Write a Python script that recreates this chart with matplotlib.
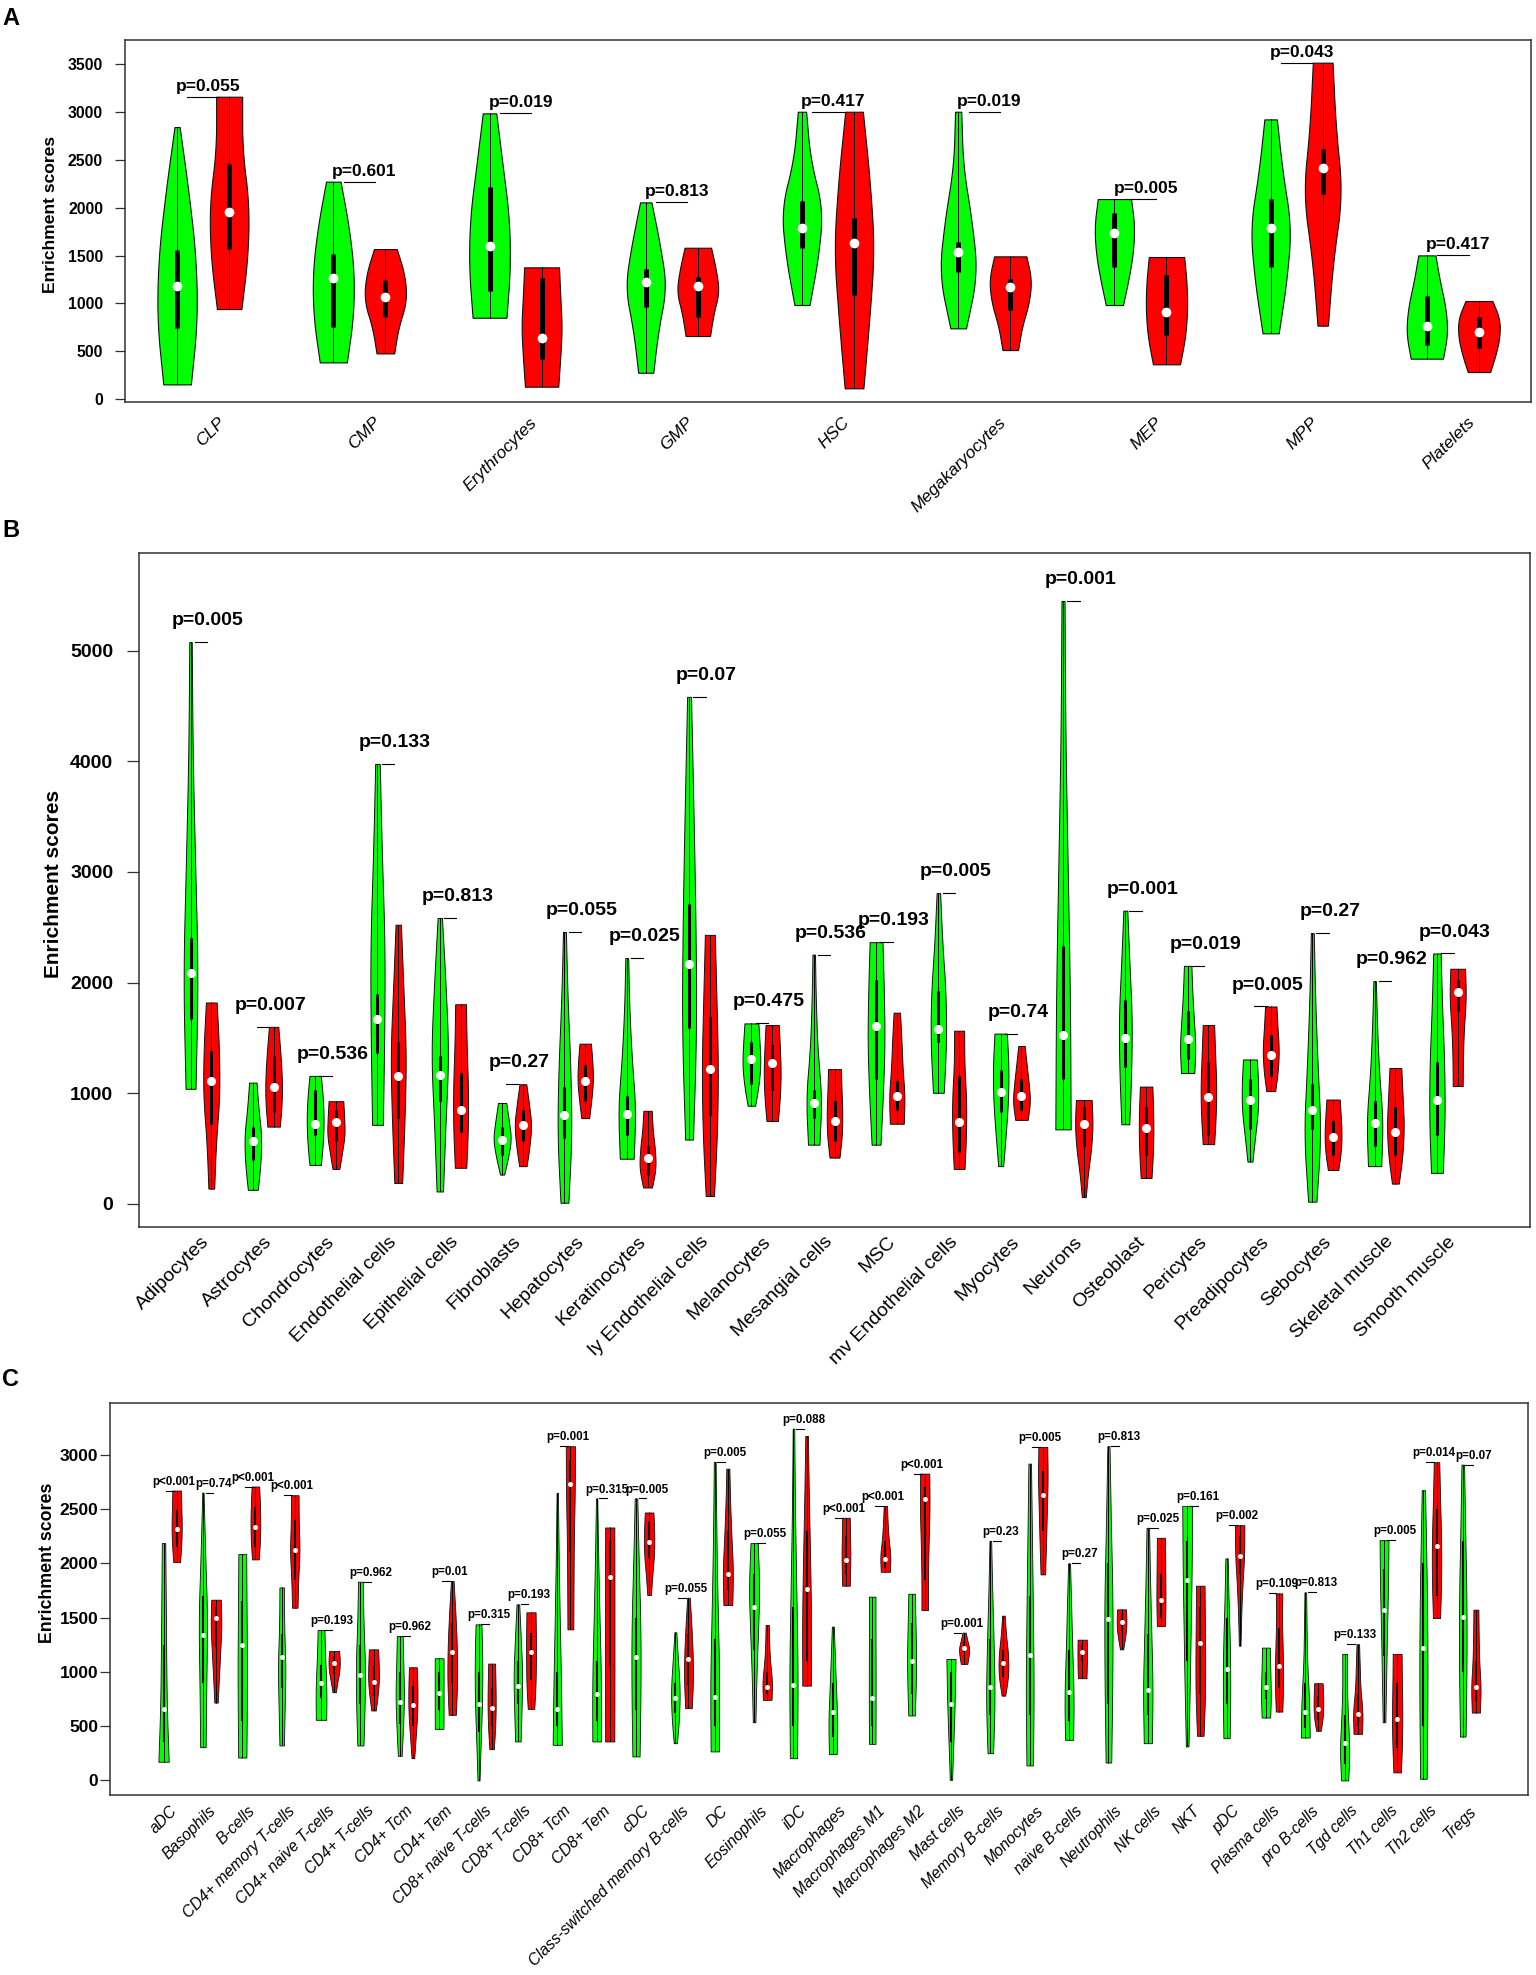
import numpy as np
import matplotlib
matplotlib.use("Agg")
import matplotlib.pyplot as plt
from matplotlib.transforms import blended_transform_factory

plt.rcParams['font.family'] = ['Liberation Sans', 'DejaVu Sans']

# ---------------- Panel A data ----------------
A_categories = ["CLP", "CMP", "Erythrocytes", "GMP", "HSC", "Megakaryocytes", "MEP", "MPP", "Platelets"]
# [min, q1, median, q3, max]
A_green_stats = [
    [153, 746, 1185, 1558, 2844], [383, 749, 1265, 1516, 2273], [850, 1133, 1603, 2213, 2987],
    [275, 965, 1220, 1363, 2056], [983, 1575, 1792, 2074, 3004], [739, 1331, 1534, 1645, 3004],
    [983, 1384, 1739, 1948, 2091], [687, 1384, 1792, 2088, 2924], [422, 565, 767, 1077, 1502]]
# violin full width at 5 evenly spaced levels from min to max
A_green_shape = [
    [0.53, 0.78, 0.72, 0.44, 0.10], [0.52, 0.77, 0.80, 0.60, 0.28], [0.65, 0.80, 0.75, 0.50, 0.26],
    [0.29, 0.48, 0.80, 0.55, 0.22], [0.29, 0.63, 0.80, 0.32, 0.16], [0.30, 0.74, 0.52, 0.18, 0.12],
    [0.33, 0.55, 0.72, 0.77, 0.64], [0.31, 0.62, 0.79, 0.46, 0.24], [0.62, 0.80, 0.72, 0.50, 0.33]]
A_red_stats = [
    [941, 1565, 1959, 2454, 3161], [477, 854, 1070, 1244, 1568], [129, 418, 641, 1269, 1377],
    [659, 861, 1182, 1279, 1582], [112, 1087, 1628, 1889, 3004], [512, 931, 1168, 1258, 1492],
    [363, 669, 913, 1297, 1485], [767, 2144, 2412, 2611, 3517], [282, 530, 704, 861, 1025]]
A_red_shape = [
    [0.47, 0.72, 0.76, 0.50, 0.50], [0.34, 0.50, 0.82, 0.75, 0.44], [0.64, 0.72, 0.78, 0.72, 0.67],
    [0.47, 0.60, 0.82, 0.70, 0.51], [0.36, 0.59, 0.78, 0.61, 0.34], [0.30, 0.45, 0.72, 0.82, 0.62],
    [0.52, 0.72, 0.80, 0.78, 0.68], [0.20, 0.40, 0.76, 0.50, 0.38], [0.43, 0.65, 0.80, 0.80, 0.52]]
A_pvalues = ["p=0.055", "p=0.601", "p=0.019", "p=0.813", "p=0.417", "p=0.019", "p=0.005", "p=0.043", "p=0.417"]
A_yticks = [0, 500, 1000, 1500, 2000, 2500, 3000, 3500]

# ---------------- Panel B data ----------------
B_categories = ["Adipocytes", "Astrocytes", "Chondrocytes", "Endothelial cells", "Epithelial cells",
                "Fibroblasts", "Hepatocytes", "Keratinocytes", "ly Endothelial cells", "Melanocytes",
                "Mesangial cells", "MSC", "mv Endothelial cells", "Myocytes", "Neurons", "Osteoblast",
                "Pericytes", "Preadipocytes", "Sebocytes", "Skeletal muscle", "Smooth muscle"]
B_green_stats = [
    [1040, 1667, 2090, 2406, 5077], [127, 392, 571, 698, 1096], [352, 622, 724, 1030, 1157],
    [714, 1361, 1667, 1896, 3976], [112, 928, 1167, 1335, 2584], [265, 443, 581, 698, 912],
    [10, 596, 800, 1055, 2457], [408, 622, 816, 979, 2222], [581, 1590, 2166, 2712, 4582],
    [887, 1081, 1310, 1463, 1631], [535, 775, 912, 1030, 2253], [535, 1132, 1611, 2024, 2365],
    [1004, 1463, 1580, 1922, 2808], [341, 826, 1014, 1208, 1539], [673, 1132, 1524, 2330, 5449],
    [719, 1233, 1499, 1845, 2650], [1183, 1310, 1493, 1743, 2151], [382, 673, 943, 1131, 1305],
    [20, 673, 851, 1081, 2447], [341, 520, 734, 928, 2013], [280, 622, 938, 1284, 2263]]
B_green_shape = [
    [0.48, 0.72, 0.45, 0.20, 0.12], [0.48, 0.75, 0.83, 0.55, 0.36], [0.55, 0.75, 0.83, 0.75, 0.55],
    [0.52, 0.66, 0.70, 0.42, 0.22], [0.31, 0.55, 0.85, 0.57, 0.21], [0.20, 0.60, 0.88, 0.65, 0.40],
    [0.38, 0.70, 0.58, 0.30, 0.14], [0.67, 0.85, 0.48, 0.24, 0.14], [0.38, 0.71, 0.62, 0.42, 0.19],
    [0.36, 0.70, 0.88, 0.80, 0.67], [0.55, 0.76, 0.36, 0.20, 0.12], [0.43, 0.67, 0.83, 0.76, 0.62],
    [0.52, 0.76, 0.71, 0.38, 0.17], [0.24, 0.50, 0.72, 0.76, 0.60], [0.74, 0.68, 0.45, 0.22, 0.15],
    [0.38, 0.58, 0.64, 0.40, 0.19], [0.64, 0.76, 0.60, 0.45, 0.36], [0.24, 0.50, 0.78, 0.80, 0.67],
    [0.40, 0.83, 0.52, 0.28, 0.14], [0.64, 0.79, 0.43, 0.24, 0.12], [0.57, 0.76, 0.71, 0.50, 0.36]]
B_red_stats = [
    [138, 724, 1106, 1386, 1820], [698, 826, 1055, 1335, 1600], [316, 571, 739, 851, 928],
    [189, 775, 1157, 1463, 2523], [326, 647, 846, 1182, 1804], [341, 571, 714, 851, 1081],
    [775, 928, 1106, 1259, 1448], [148, 265, 418, 520, 841], [71, 800, 1223, 1692, 2431],
    [749, 1030, 1274, 1437, 1616], [418, 571, 749, 928, 1218], [724, 851, 979, 1106, 1728],
    [316, 469, 739, 1157, 1565], [759, 851, 979, 1132, 1427], [61, 520, 724, 877, 938],
    [234, 443, 683, 877, 1060], [540, 622, 968, 1284, 1616], [1019, 1157, 1346, 1529, 1784],
    [306, 443, 607, 749, 943], [183, 443, 647, 877, 1228], [1065, 1743, 1916, 2024, 2125]]
B_red_shape = [
    [0.28, 0.45, 0.80, 0.75, 0.52], [0.60, 0.80, 0.80, 0.65, 0.45], [0.33, 0.60, 0.85, 0.80, 0.71],
    [0.38, 0.62, 0.76, 0.50, 0.26], [0.55, 0.72, 0.72, 0.58, 0.52], [0.36, 0.65, 0.83, 0.60, 0.33],
    [0.38, 0.60, 0.76, 0.70, 0.55], [0.43, 0.80, 0.72, 0.50, 0.40], [0.40, 0.71, 0.79, 0.64, 0.48],
    [0.55, 0.75, 0.83, 0.75, 0.64], [0.48, 0.72, 0.76, 0.68, 0.62], [0.67, 0.76, 0.55, 0.45, 0.31],
    [0.52, 0.67, 0.69, 0.50, 0.48], [0.60, 0.85, 0.70, 0.50, 0.31], [0.19, 0.40, 0.72, 0.86, 0.76],
    [0.52, 0.65, 0.71, 0.68, 0.60], [0.55, 0.72, 0.76, 0.65, 0.55], [0.43, 0.70, 0.79, 0.65, 0.55],
    [0.50, 0.75, 0.83, 0.75, 0.64], [0.33, 0.70, 0.83, 0.70, 0.57], [0.48, 0.50, 0.60, 0.80, 0.71]]
B_pvalues = ["p=0.005", "p=0.007", "p=0.536", "p=0.133", "p=0.813", "p=0.27", "p=0.055", "p=0.025",
             "p=0.07", "p=0.475", "p=0.536", "p=0.193", "p=0.005", "p=0.74", "p=0.001", "p=0.001",
             "p=0.019", "p=0.005", "p=0.27", "p=0.962", "p=0.043"]
B_yticks = [0, 1000, 2000, 3000, 4000, 5000]

# ---------------- Panel C data ----------------
C_categories = ["aDC", "Basophils", "B-cells", "CD4+ memory T-cells", "CD4+ naive T-cells", "CD4+ T-cells",
                "CD4+ Tcm", "CD4+ Tem", "CD8+ naive T-cells", "CD8+ T-cells", "CD8+ Tcm", "CD8+ Tem", "cDC",
                "Class-switched memory B-cells", "DC", "Eosinophils", "iDC", "Macrophages", "Macrophages M1",
                "Macrophages M2", "Mast cells", "Memory B-cells", "Monocytes", "naive B-cells", "Neutrophils",
                "NK cells", "NKT", "pDC", "Plasma cells", "pro B-cells", "Tgd cells", "Th1 cells", "Th2 cells",
                "Tregs"]
C_green_stats = [
    [172, 350, 659, 1250, 2185], [306, 900, 1336, 1700, 2651], [211, 550, 1250, 1650, 2084],
    [322, 850, 1134, 1350, 1777], [558, 760, 895, 1060, 1385], [322, 700, 968, 1250, 1830],
    [227, 520, 726, 1000, 1330], [475, 650, 803, 1000, 1125], [0, 450, 702, 1000, 1437],
    [359, 700, 870, 1100, 1621], [328, 500, 659, 1000, 2648], [359, 550, 797, 1100, 2596],
    [221, 650, 1140, 1500, 2596], [343, 620, 757, 900, 1364], [267, 500, 766, 1300, 2933],
    [536, 1200, 1594, 1900, 2185], [205, 500, 879, 1600, 3239], [242, 400, 628, 900, 1416],
    [337, 500, 763, 1300, 1692], [598, 800, 1103, 1450, 1719], [6, 350, 705, 1000, 1118],
    [251, 600, 864, 1300, 2206], [138, 600, 1152, 1700, 2917], [374, 550, 818, 1200, 1998],
    [165, 700, 1486, 2000, 3077], [343, 600, 834, 1350, 2326], [313, 1100, 1845, 2200, 2528],
    [389, 700, 1024, 1500, 2044], [579, 750, 858, 1000, 1223], [395, 480, 628, 900, 1731],
    [0, 150, 343, 600, 1165], [536, 1150, 1572, 1950, 2212], [15, 500, 1217, 2000, 2672],
    [404, 1000, 1502, 2200, 2908]]
C_green_shape = [
    [0.79, 0.50, 0.40, 0.34, 0.26], [0.42, 0.52, 0.68, 0.36, 0.10], [0.63, 0.70, 0.72, 0.65, 0.60],
    [0.34, 0.47, 0.60, 0.38, 0.34], [0.79, 0.84, 0.75, 0.60, 0.52], [0.47, 0.66, 0.71, 0.47, 0.37],
    [0.29, 0.52, 0.66, 0.55, 0.45], [0.66, 0.68, 0.68, 0.68, 0.68], [0.16, 0.34, 0.55, 0.60, 0.45],
    [0.42, 0.58, 0.68, 0.45, 0.21], [0.70, 0.58, 0.38, 0.22, 0.10], [0.66, 0.68, 0.45, 0.25, 0.10],
    [0.55, 0.70, 0.70, 0.42, 0.20], [0.25, 0.60, 0.68, 0.40, 0.15], [0.63, 0.70, 0.45, 0.25, 0.14],
    [0.20, 0.35, 0.60, 0.82, 0.55], [0.55, 0.66, 0.45, 0.23, 0.12], [0.60, 0.70, 0.50, 0.32, 0.15],
    [0.50, 0.52, 0.52, 0.50, 0.50], [0.50, 0.65, 0.70, 0.60, 0.50], [0.18, 0.33, 0.50, 0.62, 0.70],
    [0.43, 0.68, 0.53, 0.30, 0.13], [0.50, 0.62, 0.50, 0.35, 0.20], [0.62, 0.72, 0.50, 0.33, 0.15],
    [0.43, 0.60, 0.65, 0.38, 0.17], [0.62, 0.75, 0.55, 0.35, 0.20], [0.20, 0.40, 0.55, 0.70, 0.75],
    [0.48, 0.58, 0.53, 0.32, 0.18], [0.65, 0.75, 0.72, 0.65, 0.60], [0.68, 0.60, 0.30, 0.20, 0.13],
    [0.55, 0.75, 0.50, 0.35, 0.38], [0.20, 0.33, 0.45, 0.62, 0.68], [0.50, 0.62, 0.62, 0.47, 0.25],
    [0.43, 0.58, 0.58, 0.38, 0.20]]
C_red_stats = [
    [2010, 2151, 2314, 2488, 2669], [717, 1232, 1499, 1600, 1664], [2035, 2151, 2335, 2519, 2706],
    [1590, 1845, 2121, 2396, 2626], [812, 980, 1085, 1150, 1192], [644, 780, 904, 1050, 1207],
    [205, 500, 696, 870, 1042], [604, 900, 1186, 1450, 1836], [288, 500, 671, 850, 1076],
    [659, 925, 1186, 1354, 1548], [1391, 2100, 2730, 2950, 3077], [359, 1050, 1875, 2200, 2329],
    [1707, 2050, 2191, 2380, 2467], [665, 880, 1118, 1350, 1682], [1615, 1750, 1900, 2300, 2871],
    [742, 800, 858, 1000, 1431], [873, 1100, 1762, 2300, 3172], [1793, 1900, 2026, 2250, 2418],
    [1921, 1960, 2035, 2200, 2528], [1569, 1850, 2589, 2700, 2825], [1073, 1180, 1223, 1280, 1361],
    [781, 950, 1079, 1200, 1517], [1897, 2300, 2626, 2850, 3071], [941, 1100, 1186, 1250, 1296],
    [1207, 1380, 1459, 1530, 1575], [1422, 1500, 1658, 1900, 2234], [411, 800, 1263, 1600, 1793],
    [1241, 1900, 2068, 2250, 2350], [634, 850, 1054, 1400, 1722], [457, 560, 656, 780, 895],
    [429, 500, 613, 800, 1254], [74, 300, 564, 900, 1165], [1495, 1700, 2157, 2500, 2930],
    [625, 730, 858, 1100, 1572]]
C_red_shape = [
    [0.52, 0.72, 0.79, 0.72, 0.66], [0.26, 0.45, 0.65, 0.84, 0.73], [0.52, 0.70, 0.76, 0.70, 0.58],
    [0.42, 0.52, 0.76, 0.60, 0.58], [0.26, 0.50, 0.80, 0.88, 0.76], [0.34, 0.65, 0.84, 0.80, 0.71],
    [0.21, 0.45, 0.68, 0.71, 0.60], [0.55, 0.76, 0.72, 0.50, 0.20], [0.34, 0.55, 0.63, 0.60, 0.52],
    [0.50, 0.70, 0.76, 0.75, 0.70], [0.45, 0.48, 0.53, 0.68, 0.70], [0.70, 0.72, 0.72, 0.72, 0.70],
    [0.28, 0.50, 0.78, 0.80, 0.66], [0.50, 0.70, 0.65, 0.45, 0.20], [0.68, 0.80, 0.55, 0.35, 0.23],
    [0.66, 0.76, 0.45, 0.30, 0.25], [0.66, 0.70, 0.55, 0.35, 0.20], [0.58, 0.65, 0.68, 0.62, 0.58],
    [0.70, 0.80, 0.50, 0.35, 0.25], [0.50, 0.50, 0.60, 0.75, 0.70], [0.50, 0.70, 0.80, 0.50, 0.25],
    [0.28, 0.75, 0.75, 0.40, 0.20], [0.35, 0.50, 0.62, 0.75, 0.68], [0.65, 0.70, 0.72, 0.72, 0.70],
    [0.25, 0.50, 0.72, 0.75, 0.68], [0.62, 0.70, 0.68, 0.65, 0.62], [0.50, 0.72, 0.75, 0.70, 0.65],
    [0.13, 0.23, 0.42, 0.70, 0.72], [0.50, 0.65, 0.58, 0.45, 0.50], [0.35, 0.65, 0.75, 0.72, 0.65],
    [0.65, 0.75, 0.40, 0.30, 0.20], [0.58, 0.75, 0.80, 0.72, 0.68], [0.55, 0.72, 0.72, 0.55, 0.42],
    [0.62, 0.75, 0.50, 0.42, 0.38]]
C_pvalues = ["p<0.001", "p=0.74", "p<0.001", "p<0.001", "p=0.193", "p=0.962", "p=0.962", "p=0.01",
             "p=0.315", "p=0.193", "p=0.001", "p=0.315", "p=0.005", "p=0.055", "p=0.005", "p=0.055",
             "p=0.088", "p<0.001", "p<0.001", "p<0.001", "p=0.001", "p=0.23", "p=0.005", "p=0.27",
             "p=0.813", "p=0.025", "p=0.161", "p=0.002", "p=0.109", "p=0.813", "p=0.133", "p=0.005",
             "p=0.014", "p=0.07"]
C_yticks = [0, 500, 1000, 1500, 2000, 2500, 3000]

GREEN = "#00FF00"
RED = "#FF0000"

W, H = 1536, 1975
fig = plt.figure(figsize=(W / 100, H / 100), dpi=100)


def axes_px(left, top, right, bottom):
    return fig.add_axes([left / W, 1 - bottom / H, (right - left) / W, (bottom - top) / H])


def chaikin(levels, widths, n_iter=4):
    pts = np.column_stack([levels, widths]).astype(float)
    for _ in range(n_iter):
        q = 0.75 * pts[:-1] + 0.25 * pts[1:]
        r = 0.25 * pts[:-1] + 0.75 * pts[1:]
        new = np.empty((2 * len(q), 2))
        new[0::2] = q
        new[1::2] = r
        pts = np.vstack([pts[0], new, pts[-1]])
    return pts[:, 0], pts[:, 1]


def draw_violin(ax, x, stats, shape, color, cfg):
    vmin, q1, med, q3, vmax = stats
    levels = np.linspace(vmin, vmax, len(shape))
    y, w = chaikin(levels, shape)
    ax.fill_betweenx(y, x - w / 2, x + w / 2, facecolor=color, edgecolor="#111111",
                     linewidth=cfg["edge_lw"], zorder=2)
    ax.plot([x, x], [vmin, vmax], color="black", lw=0.7, zorder=3, solid_capstyle="butt")
    ax.plot([x, x], [q1, q3], color="black", lw=cfg["bar_lw"], zorder=4, solid_capstyle="butt")
    ax.plot([x], [med], "o", color="white", markersize=cfg["dot_ms"], markeredgewidth=0, zorder=5)


def draw_panel(ax, cats, gs, gw, rs, rw, pv, yticks, cfg):
    for k in range(len(cats)):
        xg, xr = 3 * k + 1, 3 * k + 2
        draw_violin(ax, xg, gs[k], gw[k], GREEN, cfg)
        draw_violin(ax, xr, rs[k], rw[k], RED, cfg)
        top = max(gs[k][4], rs[k][4])
        ax.plot([xg + 0.2, xg + 0.8], [top, top], color="black", lw=0.8, zorder=3)
        ax.annotate(pv[k], xy=(xg + cfg["p_dx"], top), xytext=(0, cfg["p_gap"]),
                    textcoords="offset points", ha="center", va="baseline",
                    fontsize=cfg["p_fs"], fontweight="bold")
    ax.set_xlim(*cfg["xlim"])
    ax.set_ylim(*cfg["ylim"])
    ax.set_xticks([])
    ax.set_yticks(yticks)
    ax.set_yticklabels([str(t) for t in yticks], fontsize=cfg["tick_fs"], fontweight="bold")
    ax.tick_params(axis="y", length=cfg["tick_len"], width=0.9, pad=cfg["tick_pad"], color="#333333")
    for s in ax.spines.values():
        s.set_color("#333333")
        s.set_linewidth(1.1)
    trans = blended_transform_factory(ax.transData, ax.transAxes)
    for k, name in enumerate(cats):
        ax.annotate(name, xy=(3 * k + 1.5, 0), xycoords=trans, xytext=cfg["lab_off"],
                    textcoords="offset points", rotation=45, rotation_mode="anchor",
                    ha="right", va="top", fontsize=cfg["lab_fs"], style=cfg["lab_style"])


# Panel A
axA = axes_px(125, 40, 1531, 402)
draw_panel(axA, A_categories, A_green_stats, A_green_shape, A_red_stats, A_red_shape, A_pvalues, A_yticks,
           dict(edge_lw=0.8, bar_lw=3.6, dot_ms=7.0, p_dx=0.6, p_gap=4.3, p_fs=12.5,
                xlim=(0, 27), ylim=(-31, 3754), tick_fs=11.3, tick_len=7.2, tick_pad=8.6,
                lab_off=(10.0, -9.0), lab_fs=12.5, lab_style="italic"))

# Panel B
axB = axes_px(139, 553, 1530, 1227)
draw_panel(axB, B_categories, B_green_stats, B_green_shape, B_red_stats, B_red_shape, B_pvalues, B_yticks,
           dict(edge_lw=0.7, bar_lw=2.2, dot_ms=6.5, p_dx=0.84, p_gap=12.2, p_fs=14,
                xlim=(-1.48, 65.48), ylim=(-209, 5882), tick_fs=14, tick_len=8.6, tick_pad=9.9,
                lab_off=(0.0, -4.5), lab_fs=14, lab_style="normal"))

# Panel C
axC = axes_px(110, 1403, 1528, 1795)
draw_panel(axC, C_categories, C_green_stats, C_green_shape, C_red_stats, C_red_shape, C_pvalues, C_yticks,
           dict(edge_lw=0.6, bar_lw=1.5, dot_ms=3.6, p_dx=0.8, p_gap=4.3, p_fs=8.4,
                xlim=(-3.08, 104.97), ylim=(-134, 3475), tick_fs=12.5, tick_len=6.9, tick_pad=1.5,
                lab_off=(-0.7, -6.0), lab_fs=11.3, lab_style="italic"))

# y-axis titles
fig.text(51 / W, 1 - 214 / H, "Enrichment scores", rotation=90, ha="center", va="center",
         fontsize=12.6, fontweight="bold")
fig.text(54 / W, 1 - 884 / H, "Enrichment scores", rotation=90, ha="center", va="center",
         fontsize=15, fontweight="bold")
fig.text(48 / W, 1 - 1563 / H, "Enrichment scores", rotation=90, ha="center", va="center",
         fontsize=12.8, fontweight="bold")

# panel letters
for letter, base in (("A", 25), ("B", 537), ("C", 1386)):
    fig.text(2 / W, 1 - base / H, letter, ha="left", va="baseline", fontsize=17, fontweight="bold")

fig.savefig("out.png", dpi=100)
